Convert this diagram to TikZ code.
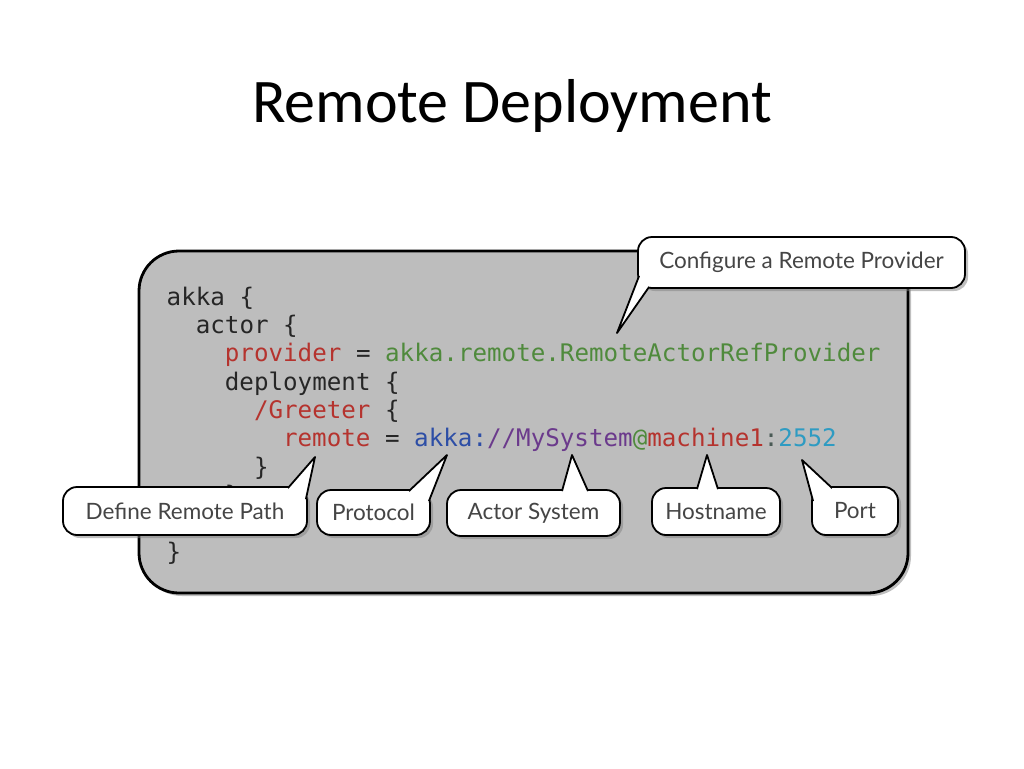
\documentclass[tikz,border=0pt]{standalone}
\usepackage{fontspec}
\setmainfont{Carlito}
\newfontfamily\codefont{DejaVu Sans Mono}
\newfontfamily\notefont{Lato}
\usetikzlibrary{calc}
\usetikzlibrary{shadows}

\definecolor{boxgray}{HTML}{BDBDBD}
\definecolor{codeblack}{HTML}{262626}
\definecolor{kwred}{HTML}{B5332E}
\definecolor{cfggreen}{HTML}{4F8A3C}
\definecolor{urlblue}{HTML}{2D4EA6}
\definecolor{syspurple}{HTML}{6B3A8C}
\definecolor{coldark}{HTML}{4A5A55}
\definecolor{portcyan}{HTML}{2E9BC2}
\definecolor{notegray}{HTML}{454545}

\begin{document}
\begin{tikzpicture}[x=1pt,y=-1pt,
  bubble/.style={draw=black, line width=1.8pt, fill=white, rounded corners=14pt, inner sep=0pt,
    font=\notefont\fontsize{22.5}{26}\selectfont, text=notegray,
    drop shadow={shadow xshift=3pt, shadow yshift=-3pt, opacity=.5}},
  tipfill/.style={fill=white},
  tipline/.style={draw=black, line width=1.8pt, line join=round},
  codeline/.style={anchor=base west, inner sep=0pt, font=\codefont\fontsize{24.2}{28}\selectfont, text=codeblack}]
\fill[white] (0,0) rectangle (1024,768);
\useasboundingbox (0,0) rectangle (1024,768);

\node[font=\fontsize{62}{70}\selectfont, anchor=base] (title) at (512,122) {Remote Deployment};

% code panel
\draw[line width=2.8pt, fill=boxgray, rounded corners=40pt,
  drop shadow={shadow xshift=3pt, shadow yshift=-3pt, opacity=.5}] (139,251) rectangle (908,593);
\foreach \n/\ind/\txt in {0/0/{akka \{}, 1/1/{actor \{},
  2/2/{\textcolor{kwred}{provider} = \textcolor{cfggreen}{akka.remote.RemoteActorRefProvider}},
  3/2/{deployment \{}, 4/3/{\textcolor{kwred}{/Greeter} \{},
  5/4/{\textcolor{kwred}{remote} = \textcolor{urlblue}{akka:}\textcolor{syspurple}{//MySystem}\textcolor{cfggreen}{@}\textcolor{kwred}{machine1}\textcolor{coldark}{:}\textcolor{portcyan}{2552}},
  6/3/{\}}, 7/2/{\}}, 9/0/{\}}} {
 \node[codeline] (line\n) at (166.5+29.1*\ind, 305+28.35*\n) {\txt};
}

% callouts
\node[bubble, minimum width=327pt, minimum height=51pt] (prov) at (801.5,262.5) {Configure a Remote Provider};
\node[bubble, minimum width=244pt, minimum height=48pt] (path) at (185,511) {Define Remote Path};
\node[bubble, minimum width=113pt, minimum height=45pt] (proto) at (373.5,512.5) {Protocol};
\node[bubble, minimum width=173pt, minimum height=46pt] (sys) at (533.5,513) {Actor System};
\node[bubble, minimum width=128pt, minimum height=47pt] (host) at (716,511.5) {Hostname};
\node[bubble, minimum width=86pt, minimum height=48pt] (port) at (855,511) {Port};

\coordinate (prov-tip) at (617,333);
\coordinate (path-tip) at (315,457);
\coordinate (proto-tip) at (447,455);
\coordinate (sys-tip) at (572,455);
\coordinate (host-tip) at (707,455);
\coordinate (port-tip) at (802,460);

\foreach \b/\anc/\ax/\ay/\bx/\by in {prov/south west/2/-13/12/-2, path/north east/-20/2/-2/13,
  proto/north east/-22/2/-2/12, sys/north/28.5/2/54.5/2, host/north/-19/2/2/2, port/north west/2/15/21/2} {
 \fill[tipfill] ($(\b.\anc)+(\ax,\ay)$) -- (\b-tip) -- ($(\b.\anc)+(\bx,\by)$) -- cycle;
 \draw[tipline] ($(\b.\anc)+(\ax,\ay)$) -- (\b-tip) -- ($(\b.\anc)+(\bx,\by)$);
}
\end{tikzpicture}
\end{document}
